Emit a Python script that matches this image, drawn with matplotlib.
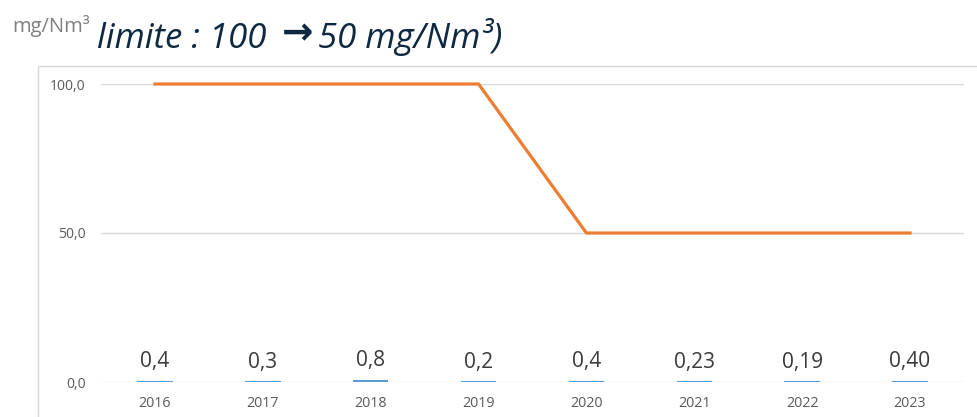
import numpy as np
import matplotlib.pyplot as plt
from matplotlib.patches import Rectangle

years = ['2016', '2017', '2018', '2019', '2020', '2021', '2022', '2023']
mesures = [0.4, 0.3, 0.8, 0.2, 0.4, 0.23, 0.19, 0.40]
labels = ['0,4', '0,3', '0,8', '0,2', '0,4', '0,23', '0,19', '0,40']
limite = [100, 100, 100, 100, 50, 50, 50, 50]
yticks = [0, 50, 100]
ytick_labels = ['0,0', '50,0', '100,0']

plt.rcParams['font.family'] = ['Open Sans', 'DejaVu Sans']

fig = plt.figure(figsize=(9.77, 4.17), dpi=100)
W, H = 977, 417

# cadre du graphique
fig.patches.append(Rectangle((38 / W, -0.1), 1.0, (417 - 66) / H + 0.1,
                             transform=fig.transFigure, fill=False,
                             edgecolor='#D9D9D9', lw=1.0))

ax = fig.add_axes([101 / W, (417 - 382) / H, (964 - 101) / W, (382 - 84) / H])
x = np.arange(len(years))
ax.bar(x, mesures, width=0.33, color='#5B9BD5', zorder=3)
ax.plot(x, limite, color='#ED7D31', lw=2.3, zorder=4, clip_on=False)

for xi, v, lab in zip(x, mesures, labels):
    ax.annotate(lab, (xi, v), xytext=(0, 6), textcoords='offset points',
                ha='center', va='bottom', fontsize=15, color='#3A3A3A')

ax.set_xlim(-0.5, len(years) - 0.5)
ax.set_ylim(0, 100)
ax.set_xticks(x)
ax.set_xticklabels(years, fontsize=10.3, color='#595959')
ax.set_yticks(yticks)
ax.set_yticklabels(ytick_labels, fontsize=10, color='#595959')
ax.tick_params(length=0, axis='y', pad=11)
ax.tick_params(length=0, axis='x', pad=10)
ax.grid(axis='y', color='#D9D9D9', lw=1.0, zorder=0)
for s in ax.spines.values():
    s.set_visible(False)

# titre
fig.text(12 / W, 1 - 32 / H, 'mg/Nm³', fontsize=14.5, color='#7F7F7F',
         ha='left', va='baseline')
title_col = '#0E2841'
fig.text(97 / W, 1 - 48 / H, 'limite : 100', fontsize=25,
         style='italic', color=title_col, ha='left', va='baseline')
fig.text(298 / W, 1 - 34 / H, '\u2192', fontsize=27, family='DejaVu Sans',
         weight='bold', color=title_col, ha='center', va='center')
fig.text(318 / W, 1 - 48 / H, '50 mg/Nm³)', fontsize=25,
         style='italic', color=title_col, ha='left', va='baseline')

fig.savefig('out.png', dpi=100)
